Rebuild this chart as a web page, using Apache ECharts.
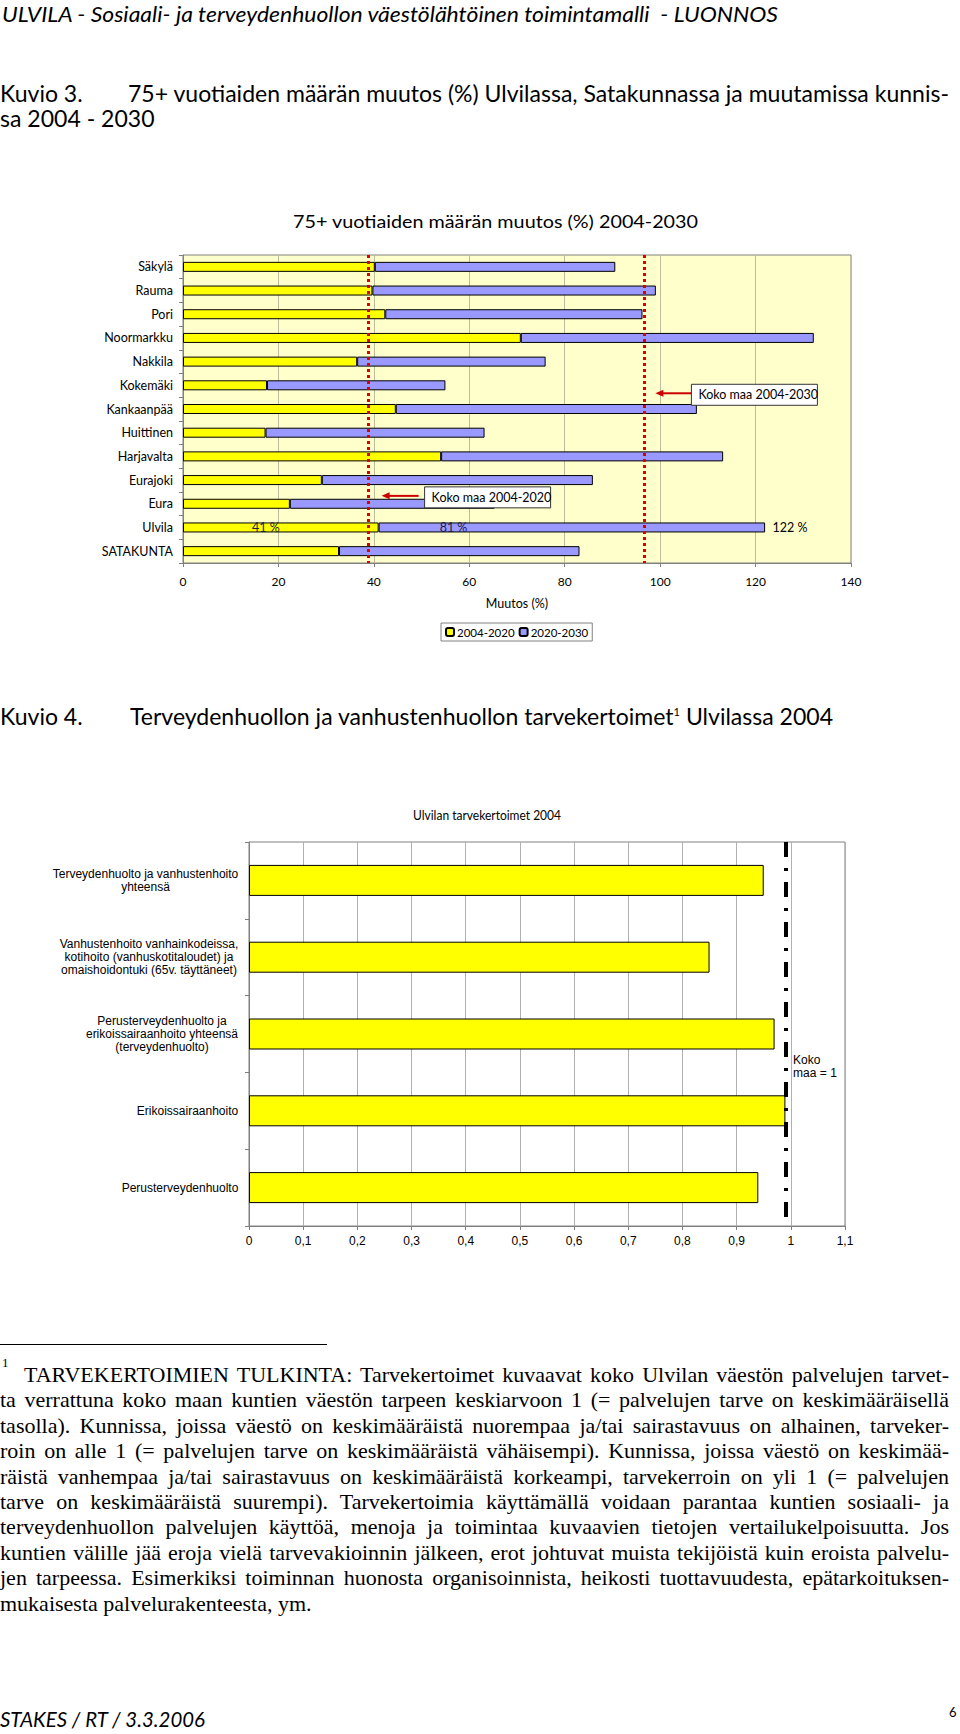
<!DOCTYPE html>
<html lang="fi">
<head>
<meta charset="utf-8">
<title>Kuvio 3 ja Kuvio 4</title>
<script src="https://cdn.jsdelivr.net/npm/echarts@6/dist/echarts.min.js"></script>
<style>
html,body{margin:0;padding:0;background:#fff;}
body{width:960px;height:1734px;position:relative;overflow:hidden;}
#chart{position:absolute;left:0;top:0;width:960px;height:1734px;}
.t{position:absolute;white-space:pre;font-family:Lato,'Open Sans',sans-serif;line-height:1;transform-origin:0 0;color:#000;}
.fn{position:absolute;white-space:pre;font-family:'Liberation Serif','Times New Roman',serif;font-size:22px;line-height:1;transform-origin:0 0;color:#000;}
.sup{position:relative;top:-9px;font-size:11px;}
</style>
</head>
<body>
<div id="chart"></div>

<div class="t" id="hdr" style="left:2px;top:3px;font-size:21px;font-style:italic">ULVILA - Sosiaali- ja terveydenhuollon väestölähtöinen toimintamalli  - LUONNOS</div>

<div class="t" id="k3a" style="left:0px;top:82px;font-size:23px">Kuvio 3.</div>
<div class="t" id="k3b" style="left:128px;top:82px;font-size:23px">75+ vuotiaiden määrän muutos (%) Ulvilassa, Satakunnassa ja muutamissa kunnis-</div>
<div class="t" id="k3c" style="left:0px;top:107px;font-size:23px">sa 2004 - 2030</div>

<div class="t" id="title1" style="left:293px;top:213px;font-size:17px">75+ vuotiaiden määrän muutos (%) 2004-2030</div>

<div class="t" id="k4a" style="left:0px;top:705px;font-size:23px">Kuvio 4.</div>
<div class="t" id="k4b" style="left:130px;top:705px;font-size:23px">Terveydenhuollon ja vanhustenhuollon tarvekertoimet<span class="sup">1</span> Ulvilassa 2004</div>

<div class="t" id="title2" style="left:413px;top:808px;font-size:14px">Ulvilan tarvekertoimet 2004</div>

<div style="position:absolute;left:0;top:1344px;width:327px;height:0;border-top:1px solid #000"></div>
<div class="fn" style="left:2px;top:1356px;font-size:13px">1</div>

<div class="t" id="ftr" style="left:0px;top:1708px;font-size:21px;font-style:italic">STAKES / RT / 3.3.2006</div>
<div class="t" style="left:949px;top:1706px;font-size:13px">6</div>

<script>
// ---------- Kuvio 3 data ----------
const categories = ['Säkylä','Rauma','Pori','Noormarkku','Nakkila','Kokemäki','Kankaanpää','Huittinen','Harjavalta','Eurajoki','Eura','Ulvila','SATAKUNTA'];
const change2004to2020 = [40.2, 39.7, 42.4, 70.8, 36.5, 17.6, 44.6, 17.3, 54.1, 29.1, 22.4, 41, 32.7];
const change2020to2030 = [50.4, 59.4, 53.9, 61.4, 39.5, 37.4, 63.1, 45.9, 59.1, 56.8, 42.9, 81, 50.4];
const nationalChange = [38.9, 96.7];            // Koko maa 2004-2020, Koko maa 2004-2030
const nationalChangeLabels = ['Koko maa 2004-2020', 'Koko maa 2004-2030'];
const changeTickLabels = ['0','20','40','60','80','100','120','140'];
const seriesNames1 = ['2004-2020', '2020-2030'];

// ---------- Kuvio 4 data ----------
const needCategories = [
  'Terveydenhuolto ja vanhustenhoito\nyhteensä',
  'Vanhustenhoito vanhainkodeissa,\nkotihoito (vanhuskotitaloudet) ja\nomaishoidontuki (65v. täyttäneet)',
  'Perusterveydenhuolto ja\nerikoissairaanhoito yhteensä\n(terveydenhuolto)',
  'Erikoissairaanhoito',
  'Perusterveydenhuolto'
];
const needCoefficients = [0.95, 0.85, 0.97, 0.99, 0.94];
const nationalLevel = 0.995;
const nationalLevelLabel = 'Koko\nmaa = 1';
const needTickLabels = ['0','0,1','0,2','0,3','0,4','0,5','0,6','0,7','0,8','0,9','1','1,1'];

// ---------- footnote text ----------
const footnoteLines = [
  'TARVEKERTOIMIEN TULKINTA: Tarvekertoimet kuvaavat koko Ulvilan väestön palvelujen tarvet-',
  'ta verrattuna koko maan kuntien väestön tarpeen keskiarvoon 1 (= palvelujen tarve on keskimääräisellä',
  'tasolla). Kunnissa, joissa väestö on keskimääräistä nuorempaa ja/tai sairastavuus on alhainen, tarveker-',
  'roin on alle 1 (= palvelujen tarve on keskimääräistä vähäisempi). Kunnissa, joissa väestö on keskimää-',
  'räistä vanhempaa ja/tai sairastavuus on keskimääräistä korkeampi, tarvekerroin on yli 1 (= palvelujen',
  'tarve on keskimääräistä suurempi). Tarvekertoimia käyttämällä voidaan parantaa kuntien sosiaali- ja',
  'terveydenhuollon palvelujen käyttöä, menoja ja toimintaa kuvaavien tietojen vertailukelpoisuutta. Jos',
  'kuntien välille jää eroja vielä tarvevakioinnin jälkeen, erot johtuvat muista tekijöistä kuin eroista palvelu-',
  'jen tarpeessa. Esimerkiksi toiminnan huonosta organisoinnista, heikosti tuottavuudesta, epätarkoituksen-',
  'mukaisesta palvelurakenteesta, ym.'
];

// ---------- page text fitting ----------
function fit(id, width) {
  const el = document.getElementById(id);
  const s = width / el.getBoundingClientRect().width;
  el.style.transform = 'scaleX(' + s + ')';
  return s;
}
function scale(id, s) { document.getElementById(id).style.transform = 'scaleX(' + s + ')'; }
fit('hdr', 776);
const sK = fit('k3b', 821);
['k3a','k3c','k4a','k4b'].forEach(id => scale(id, sK));
fit('title1', 405);
fit('title2', 148);
fit('ftr', 205);

// footnote: one common horizontal scale, then per-line word spacing for justification
const FN_TOP = 1375, FN_STEP = 25.4, FN_RIGHT = 949;
const fnEls = footnoteLines.map((txt, i) => {
  const d = document.createElement('div');
  d.className = 'fn';
  d.textContent = txt;
  const left = i === 0 ? 24 : 0;
  d.style.left = left + 'px';
  d.style.top = (FN_TOP + FN_STEP * i - 11) + 'px';
  document.body.appendChild(d);
  return {d, left, w: d.getBoundingClientRect().width, n: (txt.match(/ /g) || []).length};
});
let sx = 1;
fnEls.slice(0, -1).forEach(o => { sx = Math.min(sx, (FN_RIGHT - o.left) / (o.w - 0.8 * o.n)); });
fnEls.forEach((o, i) => {
  o.d.style.transform = 'scaleX(' + sx + ')';
  if (i < fnEls.length - 1) {
    const ws = ((FN_RIGHT - o.left) / sx - o.w) / o.n;
    o.d.style.wordSpacing = ws + 'px';
  }
});

// ---------- chart ----------
const FONT1 = 'Lato';
const FONT2 = 'Liberation Sans';
const G1 = {left: 183, top: 255, width: 668, height: 308};
const G2 = {left: 249, top: 842, width: 596, height: 384};
const uIdx = categories.indexOf('Ulvila');
const ulvilaTotal = change2004to2020[uIdx] + change2020to2030[uIdx];

const mctx = document.createElement('canvas').getContext('2d');
mctx.font = '12px "' + FONT2 + '"';
const needRich = {};
needCategories.forEach((c, i) => {
  const w = Math.ceil(Math.max(...c.split('\n').map(l => mctx.measureText(l).width))) + 1;
  needRich['c' + i] = {width: w, align: 'center', fontFamily: FONT2, fontSize: 12, lineHeight: 13.3, color: '#000'};
});

const chart = echarts.init(document.getElementById('chart'), null, {renderer: 'svg', width: 960, height: 1734});

const pctLabel = (dx) => ({show: true, position: [dx, 5], align: 'left', verticalAlign: 'middle',
  fontFamily: FONT1, fontSize: 12.5, color: '#1c1c48'});

const option = {
  animation: false,
  textStyle: {fontFamily: FONT1},
  grid: [
    Object.assign({show: true, backgroundColor: '#FFFFCC', borderColor: '#808080', borderWidth: 1}, G1),
    Object.assign({show: true, backgroundColor: '#FFFFFF', borderColor: '#808080', borderWidth: 1}, G2)
  ],
  legend: {
    data: seriesNames1, left: 441, top: 623, orient: 'horizontal',
    itemWidth: 8, itemHeight: 8, itemGap: 4, padding: [3, 4, 3, 4],
    borderColor: '#808080', borderWidth: 1, backgroundColor: '#fff',
    textStyle: {fontFamily: FONT1, fontSize: 11.5, color: '#000', padding: [0, 0, 0, -2]}
  },
  xAxis: [
    {type: 'value', gridIndex: 0, min: 0, max: 140, interval: 20,
     name: 'Muutos (%)', nameLocation: 'middle', nameGap: 34,
     nameTextStyle: {fontFamily: FONT1, fontSize: 12.5, color: '#000'},
     axisLine: {show: true, lineStyle: {color: '#808080'}},
     axisTick: {show: true, length: 4, lineStyle: {color: '#808080'}},
     axisLabel: {fontFamily: FONT1, fontSize: 12, color: '#000', margin: 12,
                 formatter: (v, i) => changeTickLabels[i]},
     splitLine: {show: true, lineStyle: {color: '#bdbd9e', width: 1}}},
    {type: 'value', gridIndex: 1, min: 0, max: 1.1, interval: 0.1,
     axisLine: {show: true, lineStyle: {color: '#808080'}},
     axisTick: {show: true, length: 4, lineStyle: {color: '#808080'}},
     axisLabel: {fontFamily: FONT2, fontSize: 12, color: '#000', margin: 9,
                 formatter: (v, i) => needTickLabels[i]},
     splitLine: {show: true, lineStyle: {color: '#b0b0b0', width: 1}}}
  ],
  yAxis: [
    {type: 'category', gridIndex: 0, data: categories, inverse: true,
     axisLine: {show: true, lineStyle: {color: '#808080'}},
     axisTick: {show: true, length: 4, lineStyle: {color: '#808080'}},
     axisLabel: {interval: 0, fontFamily: FONT1, fontSize: 12.5, color: '#000', margin: 10},
     splitLine: {show: false}},
    {type: 'category', gridIndex: 1, data: needCategories, inverse: true,
     axisLine: {show: true, lineStyle: {color: '#808080'}},
     axisTick: {show: true, length: 4, lineStyle: {color: '#808080'}},
     axisLabel: {interval: 0, margin: 10, fontFamily: FONT2, fontSize: 12, color: '#000',
                 formatter: (v, i) => v.split('\n').map(l => '{c' + i + '|' + l + '}').join('\n'),
                 rich: needRich},
     splitLine: {show: false}}
  ],
  series: [
    {name: seriesNames1[0], type: 'bar', xAxisIndex: 0, yAxisIndex: 0, stack: 'muutos', barWidth: 10,
     itemStyle: {color: '#FFFF00', borderColor: '#000', borderWidth: 1},
     data: change2004to2020.map((v, i) => i === uIdx
        ? {value: v, label: Object.assign(pctLabel(69), {formatter: Math.round(v) + ' %'})} : v),
     markLine: {silent: true, symbol: 'none', label: {show: false},
                lineStyle: {color: '#dd0000', width: 3, type: [3, 3]},
                data: nationalChange.map(v => ({xAxis: v}))}},
    {name: seriesNames1[1], type: 'bar', xAxisIndex: 0, yAxisIndex: 0, stack: 'muutos', barWidth: 10,
     itemStyle: {color: '#9999FF', borderColor: '#000', borderWidth: 1},
     data: change2020to2030.map((v, i) => i === uIdx
        ? {value: v, label: Object.assign(pctLabel(61), {formatter: Math.round(v) + ' %'})} : v),
     markPoint: {silent: true, symbol: 'circle', symbolSize: 1, itemStyle: {color: 'rgba(0,0,0,0)'},
                 data: [{coord: [ulvilaTotal, categories[uIdx]],
                         label: {show: true, position: 'right', distance: 7, fontFamily: FONT1,
                                 fontSize: 12.5, color: '#000', formatter: Math.round(ulvilaTotal) + ' %'}}]}},
    {name: 'Tarvekerroin', type: 'bar', xAxisIndex: 1, yAxisIndex: 1, barWidth: 31,
     itemStyle: {color: '#FFFF00', borderColor: '#000', borderWidth: 1},
     data: needCoefficients,
     markLine: {silent: true, symbol: 'none', label: {show: false},
                lineStyle: {color: '#000', width: 4, type: [15, 11, 3, 11]},
                data: [{xAxis: nationalLevel}]}}
  ]
};
chart.setOption(option);

// ---------- annotations anchored to axes ----------
const px = (v, g) => chart.convertToPixel({gridIndex: g}, [v, 0])[0];
const py = (i, g) => chart.convertToPixel({gridIndex: g}, [0, i])[1];
const annots = [
  {label: nationalChangeLabels[0], line: nationalChange[0], rowA: 9, frac: 0.73, tipGap: 13, boxGap: 43},
  {label: nationalChangeLabels[1], line: nationalChange[1], rowA: 5, frac: 0.4, tipGap: 11, boxGap: 36}
];
const graphics = [];
annots.forEach(a => {
  const yc = py(a.rowA, 0) + (py(a.rowA + 1, 0) - py(a.rowA, 0)) * a.frac;
  const ya = yc - 1.5;
  const tip = px(a.line, 0) + a.tipGap;
  const bx = tip + a.boxGap;
  graphics.push(
    {type: 'line', shape: {x1: tip + 6, y1: ya, x2: tip + 37, y2: ya}, style: {stroke: '#cc0000', lineWidth: 2}, z: 10},
    {type: 'polygon', shape: {points: [[tip, ya], [tip + 8, ya - 3.5], [tip + 8, ya + 3.5]]}, style: {fill: '#cc0000'}, z: 10},
    {type: 'rect', shape: {x: bx, y: yc - 10.5, width: 126, height: 21}, style: {fill: '#fff', stroke: '#333', lineWidth: 1}, z: 10},
    {type: 'text', x: bx + 7, y: yc, style: {text: a.label, fill: '#000', fontFamily: FONT1, fontSize: 12.5, verticalAlign: 'middle', align: 'left'}, z: 11}
  );
});
const midRow = (py(2, 1) + py(3, 1)) / 2;
graphics.push({type: 'text', x: px(nationalLevel, 1) + 5, y: midRow - 6,
  style: {text: nationalLevelLabel, fill: '#000', fontFamily: FONT2, fontSize: 12, lineHeight: 13, verticalAlign: 'middle', align: 'left'}, z: 11});
chart.setOption({graphic: graphics});
</script>
</body>
</html>
